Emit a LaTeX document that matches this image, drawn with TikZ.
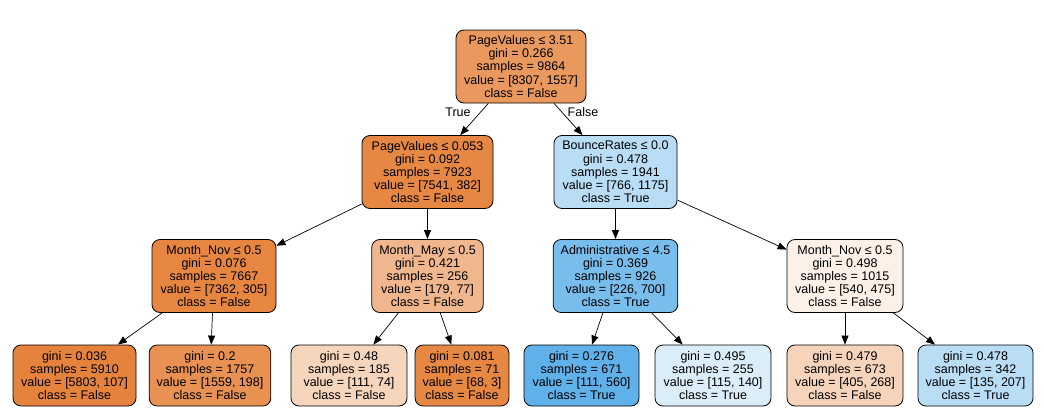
\documentclass[tikz,border=0pt]{standalone}
\usepackage{fontspec}
\setmainfont{Liberation Sans}
\usetikzlibrary{arrows.meta}
\definecolor{ora}{RGB}{229,129,57}
\definecolor{blu}{RGB}{57,157,229}
\tikzset{
  tnode/.style={draw=black, line width=0.8pt, rounded corners=8pt, align=center,
    inner xsep=7.5pt, inner ysep=0pt, font=\fontsize{12.5}{13.2}\selectfont},
  inner/.style={tnode, minimum height=73pt},
  leaf/.style={tnode, minimum height=61pt},
  w/.style={minimum width=#1pt},
  edge/.style={line width=0.7pt, -{Triangle[length=9pt,width=7pt]}},
  elabel/.style={font=\fontsize{12.5}{13.2}\selectfont}
}
\begin{document}
\begin{tikzpicture}[x=1pt,y=-1pt]
\useasboundingbox (0,0) rectangle (1044,415);
% level 1
\node[inner, w=130, fill=ora!81.3!white] (r) at (521,66.5) {PageValues ≤ 3.51\\gini = 0.266\\samples = 9864\\value = [8307, 1557]\\class = False};
% level 2
\node[inner, w=131, fill=ora!94.9!white] (a) at (427.5,172) {PageValues ≤ 0.053\\gini = 0.092\\samples = 7923\\value = [7541, 382]\\class = False};
\node[inner, w=123, fill=blu!34.8!white] (b) at (615.5,172) {BounceRates ≤ 0.0\\gini = 0.478\\samples = 1941\\value = [766, 1175]\\class = True};
% level 3
\node[inner, w=124, fill=ora!95.9!white] (aa) at (214,276) {Month\_Nov ≤ 0.5\\gini = 0.076\\samples = 7667\\value = [7362, 305]\\class = False};
\node[inner, w=111, fill=ora!57.0!white] (ab) at (427.5,276) {Month\_May ≤ 0.5\\gini = 0.421\\samples = 256\\value = [179, 77]\\class = False};
\node[inner, w=123, fill=blu!67.7!white] (ba) at (615.5,276) {Administrative ≤ 4.5\\gini = 0.369\\samples = 926\\value = [226, 700]\\class = True};
\node[inner, w=116, fill=ora!12.0!white] (bb) at (845,276) {Month\_Nov ≤ 0.5\\gini = 0.498\\samples = 1015\\value = [540, 475]\\class = False};
% level 4
\node[leaf, w=123, fill=ora!98.2!white] (aaa) at (74.5,375.5) {gini = 0.036\\samples = 5910\\value = [5803, 107]\\class = False};
\node[leaf, w=116, fill=ora!87.3!white] (aab) at (210,375.5) {gini = 0.2\\samples = 1757\\value = [1559, 198]\\class = False};
\node[leaf, w=116, fill=ora!33.3!white] (aba) at (349,375.5) {gini = 0.48\\samples = 185\\value = [111, 74]\\class = False};
\node[leaf, w=92, fill=ora!95.6!white] (abb) at (462,375.5) {gini = 0.081\\samples = 71\\value = [68, 3]\\class = False};
\node[leaf, w=115, fill=blu!80.2!white] (baa) at (581.5,375.5) {gini = 0.276\\samples = 671\\value = [111, 560]\\class = True};
\node[leaf, w=116, fill=blu!17.9!white] (bab) at (713,375.5) {gini = 0.495\\samples = 255\\value = [115, 140]\\class = True};
\node[leaf, w=116, fill=ora!33.8!white] (bba) at (845,375.5) {gini = 0.479\\samples = 673\\value = [405, 268]\\class = False};
\node[leaf, w=115, fill=blu!34.8!white] (bbb) at (975.5,375.5) {gini = 0.478\\samples = 342\\value = [135, 207]\\class = True};
% edges
\draw[edge] (r) -- (a);
\draw[edge] (r) -- (b);
\draw[edge] (a) -- (aa);
\draw[edge] (a) -- (ab);
\draw[edge] (b) -- (ba);
\draw[edge] (b) -- (bb);
\draw[edge] (aa) -- (aaa);
\draw[edge] (aa) -- (aab);
\draw[edge] (ab) -- (aba);
\draw[edge] (ab) -- (abb);
\draw[edge] (ba) -- (baa);
\draw[edge] (ba) -- (bab);
\draw[edge] (bb) -- (bba);
\draw[edge] (bb) -- (bbb);
% edge labels
\node[elabel] (lt) at (458,112) {True};
\node[elabel] (lf) at (583,112) {False};
\end{tikzpicture}
\end{document}
